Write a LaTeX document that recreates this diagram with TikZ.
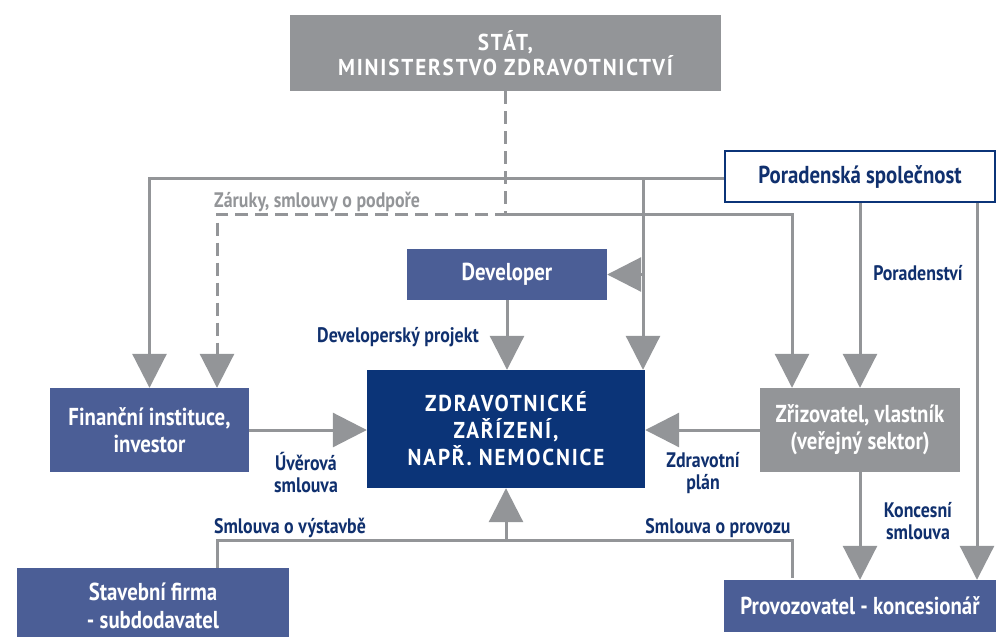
\documentclass[tikz,border=0pt]{standalone}
\usepackage{fontspec}
\setmainfont{PT Sans}[FakeStretch=0.85]
\newfontfamily\capsfont{PT Sans}[FakeStretch=0.92,LetterSpace=8]
\usetikzlibrary{arrows.meta,calc}
\definecolor{lgray}{RGB}{147,149,152}
\definecolor{boxblue}{RGB}{75,94,150}
\definecolor{mainblue}{RGB}{11,52,120}
\definecolor{txtblue}{RGB}{16,48,110}
\tikzset{
  box/.style={draw=none,inner sep=0pt,align=center,text=white,font=\bfseries\fontsize{24.5}{27}\selectfont},
  bluebox/.style={box,fill=boxblue},
  graybox/.style={box,fill=lgray},
  conn/.style={draw=lgray,line width=3pt},
  arr/.style={conn,-{Triangle[length=34pt,width=34pt]}},
  dconn/.style={conn,dash pattern=on 13pt off 7pt},
  lbl/.style={inner sep=0pt,align=center,text=txtblue,font=\bfseries\fontsize{21}{22}\selectfont},
}
\begin{document}
\begin{tikzpicture}[x=1pt,y=-1pt]
\useasboundingbox (0,0) rectangle (999,637);
% boxes
\node[graybox,minimum width=431pt,minimum height=76pt,font=\capsfont\bfseries\fontsize{23}{25}\selectfont] (stat) at (505.5,53) {STÁT,\\MINISTERSTVO ZDRAVOTNICTVÍ};
\node[box,fill=white,draw=mainblue,line width=2.5pt,text=txtblue,minimum width=270pt,minimum height=51pt] (porad) at (860,176.5) {Poradenská společnost};
\node[bluebox,minimum width=200pt,minimum height=51pt] (dev) at (507,274.5) {Developer};
\node[box,fill=mainblue,minimum width=278pt,minimum height=118pt,font=\capsfont\bfseries\fontsize{23}{27}\selectfont] (main) at (506,429) {ZDRAVOTNICKÉ\\ZAŘÍZENÍ,\\NAPŘ. NEMOCNICE};
\node[bluebox,minimum width=199pt,minimum height=84pt] (fin) at (149.5,430) {Finanční instituce,\\investor};
\node[graybox,minimum width=200pt,minimum height=84pt] (zriz) at (860,430) {Zřizovatel, vlastník\\(veřejný sektor)};
\node[bluebox,minimum width=272pt,minimum height=76pt,font=\bfseries\fontsize{24.5}{28}\selectfont] (stav) at (153,606) {Stavební firma\\- subdodavatel};
\node[bluebox,minimum width=272pt,minimum height=52pt] (prov) at (860,606) {Provozovatel - koncesionář};
% coordinates
\coordinate (jtop) at (643,178);
\coordinate (jdev) at (643,274.5);
\coordinate (jst) at (505.5,214);
\coordinate (jbot) at (506,540);
% connectors from Poradenska
\draw[arr] (porad.west |- jtop) -| (fin.north);
\draw[arr] (jtop) -- (jtop |- main.north);
\draw[arr] (jdev) -- (dev.east);
\draw[arr] (porad.south) -- (zriz.north);
\draw[arr] (porad.south -| 977,0) -- (prov.north -| 977,0);
% from stat
\draw[dconn,-{Triangle[length=34pt,width=34pt]}] (stat.south) -- (jst) -| ($(fin.north)+(67.5,0)$);
\draw[arr] (jst) -| ($(zriz.north)+(-68,0)$);
% developer to main
\draw[arr] (dev.south) -- (main.north -| dev.south);
% side arrows
\draw[arr] (fin.east) -- (fin.east -| main.west);
\draw[arr] (zriz.west) -- (zriz.west -| main.east);
\draw[arr] (zriz.south) -- (prov.north);
% bottom
\draw[conn] ($(stav.north)+(64,0)$) |- (jbot) -| ($(prov.north)+(-68,-2)$);
\draw[arr] (jbot) -- (main.south);
% labels
\node[lbl,text=lgray,anchor=west] (l1) at (214,202) {Záruky, smlouvy o podpoře};
\node[lbl,anchor=east] (l2) at (479,337) {Developerský projekt};
\node[lbl] (l3) at (918,273) {Poradenství};
\node[lbl] (l4) at (306,473) {Úvěrová\\smlouva};
\node[lbl] (l5) at (703,473) {Zdravotní\\plán};
\node[lbl] (l6) at (918,521) {Koncesní\\smlouva};
\node[lbl] (l7) at (290,528) {Smlouva o výstavbě};
\node[lbl] (l8) at (718,528) {Smlouva o provozu};
\end{tikzpicture}
\end{document}
